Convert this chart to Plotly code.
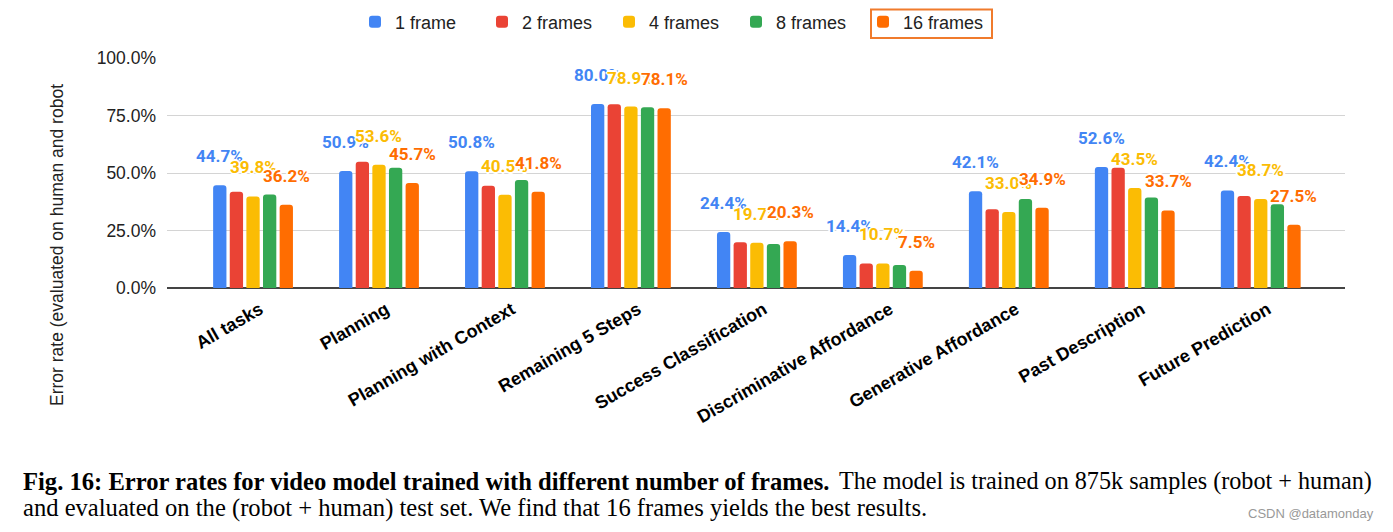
import plotly.graph_objects as go

categories = ["All tasks", "Planning", "Planning with Context", "Remaining 5 Steps",
              "Success Classification", "Discriminative Affordance", "Generative Affordance",
              "Past Description", "Future Prediction"]
series_names = ["1 frame", "2 frames", "4 frames", "8 frames", "16 frames"]
frames_1 = [44.7, 50.9, 50.8, 80.0, 24.4, 14.4, 42.1, 52.6, 42.4]
frames_2 = [41.9, 54.9, 44.5, 79.9, 19.9, 10.7, 34.2, 52.3, 40.0]
frames_4 = [39.8, 53.6, 40.5, 78.9, 19.7, 10.7, 33.0, 43.5, 38.7]
frames_8 = [40.6, 52.3, 47.0, 78.6, 19.1, 10.0, 38.7, 39.4, 36.4]
frames_16 = [36.2, 45.7, 41.8, 78.1, 20.3, 7.5, 34.9, 33.7, 27.5]
y_ticks = [0, 25, 50, 75, 100]

series_values = [frames_1, frames_2, frames_4, frames_8, frames_16]
colors = ["#4285F4", "#EA4335", "#FBBC04", "#34A853", "#FF6D01"]
labelled = [0, 2, 4]

# page body margin offset (the figure is drawn 8px from the window's corner)
OFF = 8
W, H = 1393 - OFF, 532 - OFF
PLOT_L, PLOT_R, PLOT_T, PLOT_B = 167, 1345, 58, 288   # in window pixels
L, T = PLOT_L - OFF, PLOT_T - OFF
R, B = W - (PLOT_R - OFF), H - (PLOT_B - OFF)
PW, PH = PLOT_R - PLOT_L, PLOT_B - PLOT_T

def px_x(px):
    return (px - PLOT_L) / PW

def px_y(py):
    return (PLOT_B - py) / PH

BARGAP = 0.34
GROUPGAP = 0.2
x_range = [-0.683, 8.669]
unit_px = PW / (x_range[1] - x_range[0])
slot_px = unit_px * (1 - BARGAP) / len(series_names)

fig = go.Figure()
for name, vals, col in zip(series_names, series_values, colors):
    fig.add_trace(go.Bar(name=name, x=categories, y=vals, marker=dict(color=col, line=dict(width=0)),
                         hoverinfo="x+y"))

halo = "-1px -1px 0 #fff, 1px -1px 0 #fff, -1px 1px 0 #fff, 1px 1px 0 #fff, 0 2px 0 #fff, 0 -2px 0 #fff, 2px 0 0 #fff, -2px 0 0 #fff"
annotations = []
for k in labelled:
    for cat, v in zip(categories, series_values[k]):
        annotations.append(dict(
            x=cat, y=v, xref="x", yref="y", text=f"{v:.1f}%", showarrow=False,
            xanchor="center", yanchor="bottom", yshift=17,
            xshift=(k - 2) * slot_px,
            font=dict(family="Roboto", size=17, color=colors[k], weight="bold", shadow=halo)))

annotations.append(dict(
    x=px_x(57), y=px_y(245), xref="paper", yref="paper", textangle=-90,
    xanchor="center", yanchor="middle",
    text="Error rate (evaluated on human and robot", showarrow=False,
    font=dict(family="Liberation Sans, Arial", size=17.5, color="#222")))

SERIF = "Liberation Serif, Times New Roman"
annotations.append(dict(
    x=px_x(21), y=px_y(481), xref="paper", yref="paper", xanchor="left", yanchor="middle",
    text="<b>Fig. 16: Error rates for video model trained with different number of frames.</b>",
    showarrow=False, font=dict(family=SERIF, size=24.6, color="#000")))
annotations.append(dict(
    x=px_x(1374), y=px_y(481), xref="paper", yref="paper", xanchor="right", yanchor="middle",
    text="The model is trained on 875k samples (robot + human)",
    showarrow=False, font=dict(family=SERIF, size=24.2, color="#000")))
annotations.append(dict(
    x=px_x(21), y=px_y(508), xref="paper", yref="paper", xanchor="left", yanchor="middle",
    text="and evaluated on the (robot + human) test set. We find that 16 frames yields the best results.",
    showarrow=False, font=dict(family=SERIF, size=24.6, color="#000")))
annotations.append(dict(
    x=px_x(1376), y=px_y(513), xref="paper", yref="paper", xanchor="right", yanchor="middle",
    text="CSDN @datamonday", showarrow=False,
    font=dict(family="Liberation Sans, Arial", size=13, color="#999")))

fig.update_layout(
    width=W, height=H,
    margin=dict(l=L, r=R, t=T, b=B, pad=0, autoexpand=False),
    paper_bgcolor="white", plot_bgcolor="white",
    barmode="group", bargap=BARGAP, bargroupgap=GROUPGAP, barcornerradius=3,
    font=dict(family="Liberation Sans, Arial", size=16, color="#222"),
    showlegend=True,
    legend=dict(orientation="h", x=px_x(355), xanchor="left", y=px_y(22), yanchor="middle",
                entrywidth=82, entrywidthmode="pixels", traceorder="normal",
                font=dict(family="Liberation Sans, Arial", size=18, color="#222"),
                bgcolor="rgba(0,0,0,0)"),
    xaxis=dict(range=x_range, tickangle=-30, showgrid=False, showline=False, ticks="outside",
               ticklen=3, tickcolor="rgba(0,0,0,0)", ticklabelshift=7,
               tickfont=dict(family="Liberation Sans, Arial", size=18, color="#000", weight="bold")),
    yaxis=dict(range=[0, 100], tickvals=y_ticks, ticktext=[f"{t:.1f}%" for t in y_ticks],
               showgrid=True, gridcolor="#d4d4d4", gridwidth=1, zeroline=True,
               zerolinecolor="#444", zerolinewidth=2, ticklabelstandoff=10,
               tickfont=dict(family="Liberation Sans, Arial", size=17.5, color="#222")),
    annotations=annotations,
    shapes=[dict(type="rect", xref="paper", yref="paper",
                 x0=px_x(871), x1=px_x(992), y0=px_y(38), y1=px_y(9.5),
                 line=dict(color="#F07B2C", width=2), fillcolor="rgba(0,0,0,0)")],
)

fig.write_html("out.html")
